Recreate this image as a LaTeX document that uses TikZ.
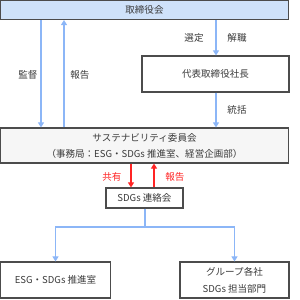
\documentclass[tikz,border=0pt]{standalone}
\usepackage{fontspec}
\newfontfamily\jpfont{Noto Sans CJK JP}
\usetikzlibrary{arrows.meta}
\definecolor{boardblue}{HTML}{CFE2FA}
\definecolor{flowblue}{HTML}{8CB6F7}
\definecolor{flowred}{HTML}{FF2424}
\definecolor{boxgray}{HTML}{F6F6F6}
\definecolor{textgray}{HTML}{3A3A3A}
\tikzset{
  org box/.style={draw=black!70, line width=1.1pt, fill=white, inner sep=0pt, text=textgray, align=center, font=\jpfont\fontsize{9.5}{11}\selectfont},
  flow line/.style={-{Triangle[length=5pt,width=6pt]}, line width=1.1pt, flowblue},
  flow plain/.style={line width=1.1pt, flowblue},
  share line/.style={-{Triangle[length=5pt,width=6pt]}, line width=1.1pt, flowred},
  flow label/.style={text=textgray, font=\jpfont\fontsize{9.5}{11}\selectfont},
  share label/.style={text=flowred, font=\jpfont\fontsize{9.5}{11}\selectfont},
  >=Stealth,
}

\begin{document}
\begin{tikzpicture}[x=0.035cm, y=-0.035cm]
  \useasboundingbox (0,0) rectangle (300,300);
  % boxes
  \node[org box, fill=boardblue, minimum width=288*0.035cm, minimum height=19*0.035cm] (board) at (144.5,10) {取締役会};
  \node[org box, minimum width=147*0.035cm, minimum height=36*0.035cm] (ceo) at (215.5,74) {代表取締役社長};
  \node[org box, fill=boxgray, minimum width=288*0.035cm, minimum height=35*0.035cm] (committee) at (144.5,145.5)
    {サステナビリティ委員会\\[5pt]（事務局：ESG・SDGs 推進室、経営企画部）};
  \node[org box, minimum width=77*0.035cm, minimum height=20*0.035cm] (liaison) at (144.5,198) {SDGs 連絡会};
  \node[org box, minimum width=110*0.035cm, minimum height=36*0.035cm] (esg) at (55.5,280) {ESG・SDGs 推進室};
  \node[org box, minimum width=109*0.035cm, minimum height=36*0.035cm] (group) at (234.5,280) {グループ各社\\[6pt]SDGs 担当部門};
  \coordinate (xa) at (41,0);
  \coordinate (xb) at (64,0);
  \coordinate (xc) at (216,0);
  \coordinate (xd) at (131,0);
  \coordinate (xe) at (154,0);
  \coordinate (split) at (145,227);
  % connectors
  \draw[flow line] (board.south -| xa) -- (committee.north -| xa);
  \draw[flow line] (committee.north -| xb) -- (board.south -| xb);
  \draw[flow line] (board.south -| xc) -- (ceo.north -| xc);
  \draw[flow line] (ceo.south -| xc) -- (committee.north -| xc);
  \draw[share line] (committee.south -| xd) -- (liaison.north -| xd);
  \draw[share line] (liaison.north -| xe) -- (committee.south -| xe);
  \draw[flow plain] (liaison.south -| split) -- (split);
  \draw[flow line] (split) -| (esg.north);
  \draw[flow line] (split) -| (group.north);
  % labels
  \node[flow label] (l-kantoku) at (28,75) {監督};
  \node[flow label] (l-houkoku) at (80,75) {報告};
  \node[flow label] (l-sentei) at (194,38) {選定};
  \node[flow label] (l-kaishoku) at (237,38) {解職};
  \node[flow label] (l-toukatsu) at (237,110) {統括};
  \node[share label] (l-kyouyuu) at (112,177) {共有};
  \node[share label] (l-houkoku2) at (175,177) {報告};
\end{tikzpicture}
\end{document}
